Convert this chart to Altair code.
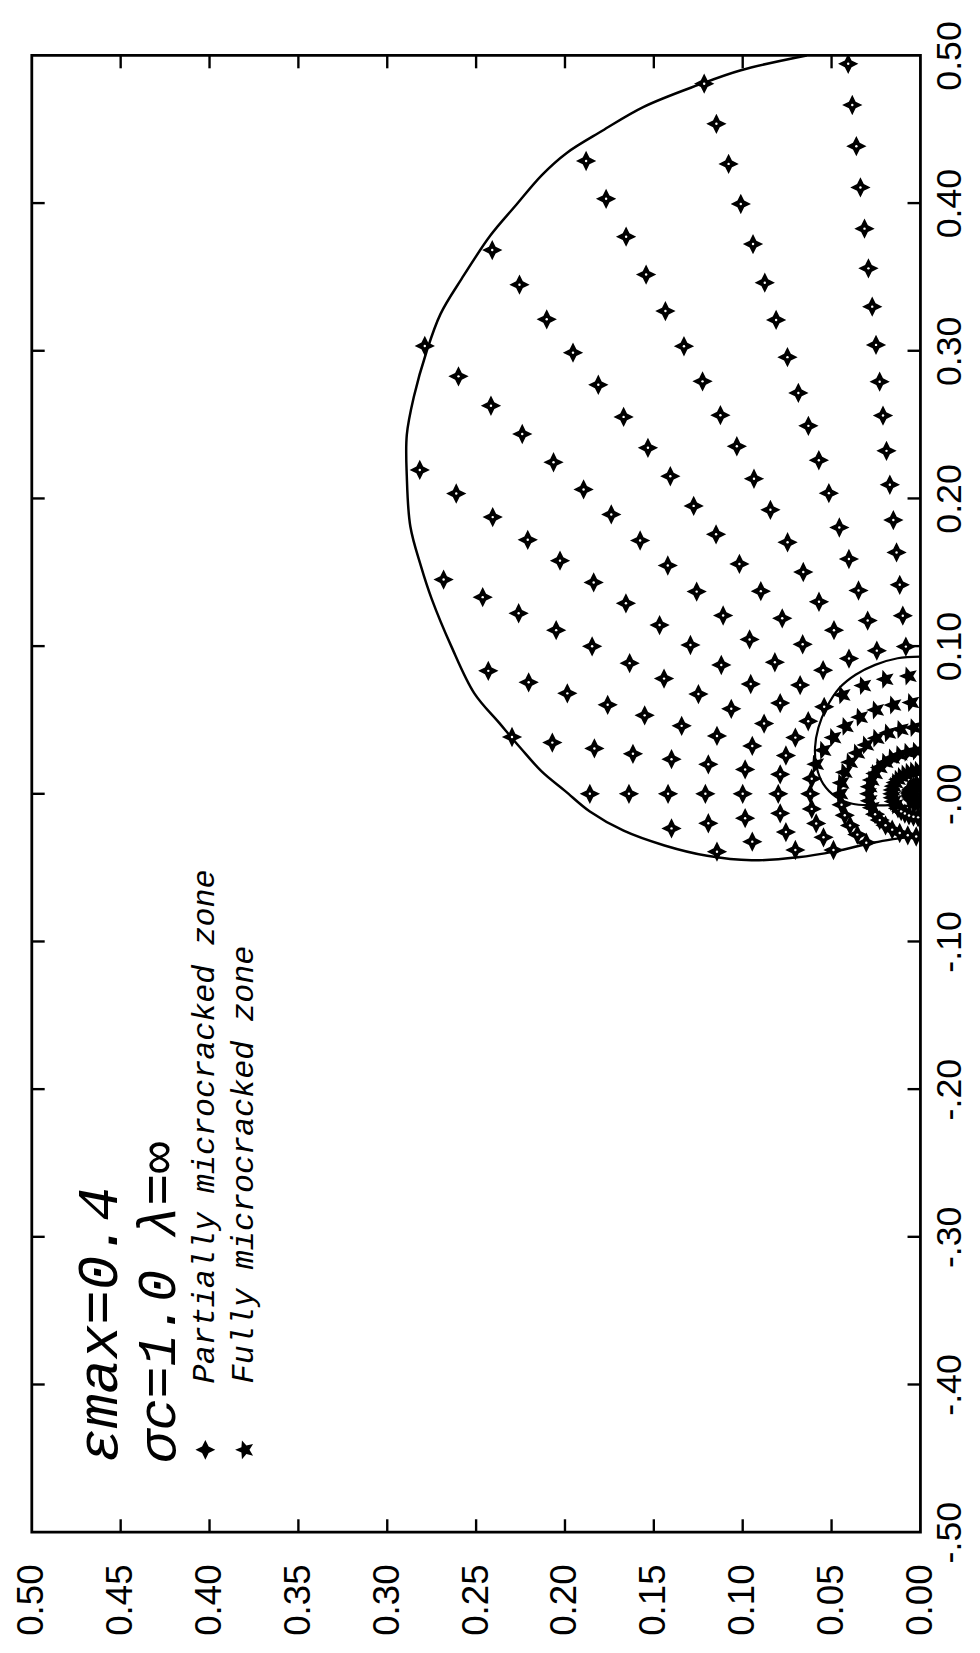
import math
import altair as alt
import pandas as pd

# ---------------- axis ticks ----------------
h_tick_values = [0.00, 0.05, 0.10, 0.15, 0.20, 0.25, 0.30, 0.35, 0.40, 0.45, 0.50]
h_tick_labels = ["0.00", "0.05", "0.10", "0.15", "0.20", "0.25", "0.30", "0.35", "0.40", "0.45", "0.50"]
v_tick_values = [-0.5, -0.4, -0.3, -0.2, -0.1, 0.0, 0.1, 0.2, 0.3, 0.4, 0.5]
v_tick_labels = ["-.50", "-.40", "-.30", "-.20", "-.10", "-.00", "0.10", "0.20", "0.30", "0.40", "0.50"]
h_inner_ticks = [0.05, 0.10, 0.15, 0.20, 0.25, 0.30, 0.35, 0.40, 0.45]
v_inner_ticks = [-0.4, -0.3, -0.2, -0.1, 0.0, 0.1, 0.2, 0.3, 0.4]

# ---------------- mesh points (polar) ----------------
ray_angle_deg = [4.7, 14.2, 23.7, 33.2, 42.6, 52.1, 61.6, 71.1, 80.5, 90.0,
                 99.5, 108.9, 118.4, 127.9, 137.4, 146.8, 156.3, 165.8, 175.3]
ring_radius = [0.006, 0.016, 0.029, 0.045, 0.062, 0.080, 0.100, 0.121, 0.142, 0.164,
               0.186, 0.210, 0.233, 0.257, 0.280, 0.305, 0.331, 0.357, 0.384, 0.412,
               0.440, 0.468, 0.496]
points_per_ray = [23, 23, 22, 21, 20, 18, 16, 14, 13, 11, 9, 8, 6, 5, 4, 3, 3, 3, 3]
full_zone_points_per_ray = [6, 6, 6, 6, 5, 5, 5, 5, 4, 4, 3, 3, 2, 1, 1, 1, 1, 1, 1]

# ---------------- zone boundaries ----------------
outer_y = [0.064, 0.101, 0.125, 0.156, 0.179, 0.199, 0.213, 0.228, 0.242, 0.258, 0.270,
           0.278, 0.285, 0.289, 0.289, 0.287, 0.281, 0.275, 0.264, 0.251, 0.237, 0.225,
           0.213, 0.200, 0.186, 0.167, 0.144, 0.120, 0.095, 0.069, 0.048, 0.026, 0.000]
outer_x = [0.500, 0.490, 0.480, 0.465, 0.449, 0.434, 0.419, 0.398, 0.378, 0.349, 0.325,
           0.299, 0.269, 0.243, 0.215, 0.181, 0.154, 0.132, 0.100, 0.068, 0.048, 0.031,
           0.015, 0.002, -0.012, -0.025, -0.035, -0.042, -0.045, -0.043, -0.039, -0.033, -0.028]
inner_y = [0.000, 0.0128, 0.0255, 0.0365, 0.0456, 0.0529, 0.0574, 0.0593, 0.0584, 0.0547,
           0.0474, 0.0383, 0.0274, 0.0146, 0.0018]
inner_x = [0.0929, 0.0918, 0.0873, 0.0806, 0.0716, 0.0582, 0.0448, 0.0313, 0.0179, 0.0067,
           -0.0022, -0.0067, -0.0078, -0.0078, -0.0085]

# ---------------- texts ----------------
title_lines = ["εmax=0.4", "σc=1.0  λ=∞"]
legend_labels = ["Partially microcracked zone", "Fully microcracked zone"]

# ---------------- build tables ----------------
rows = []
for a, n, nf in zip(ray_angle_deg, points_per_ray, full_zone_points_per_ray):
    t = math.radians(a)
    for j in range(n):
        r = ring_radius[j]
        rows.append({"yd": r * math.sin(t), "xd": r * math.cos(t),
                     "zone": "full" if j < nf else "partial"})
pts = pd.DataFrame(rows)
partial = pts[pts.zone == "partial"]
full = pts[pts.zone == "full"]

outer = pd.DataFrame({"yd": outer_y, "xd": outer_x, "i": range(len(outer_y))})
inner = pd.DataFrame({"yd": inner_y, "xd": inner_x, "i": range(len(inner_y))})

W, H = 896, 1489
TICK = 13

hscale = alt.Scale(domain=[0, 0.5], reverse=True, nice=False, zero=False)
vscale = alt.Scale(domain=[-0.5, 0.5], nice=False, zero=False)

h_expr = "[" + ",".join("'%s'" % s for s in h_tick_labels) + "][round(datum.value*20)]"
v_expr = "[" + ",".join("'%s'" % s for s in v_tick_labels) + "][round(datum.value*10)+5]"

haxis = alt.Axis(orient="bottom", values=h_tick_values, labelExpr=h_expr, labelAngle=270,
                 labelAlign="right", labelBaseline="middle", labelFont="Liberation Sans",
                 labelFontSize=37, labelPadding=32, ticks=False, tickSize=0, domain=False,
                 grid=False, title=None, labelColor="black", labelFlush=False,
                 labelOverlap=False, labelBound=False)
vaxis = alt.Axis(orient="right", values=v_tick_values, labelExpr=v_expr, labelAngle=270,
                 labelAlign="center", labelBaseline="top", labelFont="Liberation Sans",
                 labelFontSize=36, labelPadding=12, ticks=False, tickSize=0, domain=False,
                 grid=False, title=None, labelColor="black", labelFlush=False,
                 labelOverlap=False, labelBound=False)

X = alt.X("yd:Q", scale=hscale, axis=haxis)
Y = alt.Y("xd:Q", scale=vscale, axis=vaxis)

four_star = "M0,-1 L0.33,-0.33 L1,0 L0.33,0.33 L0,1 L-0.33,0.33 L-1,0 L-0.33,-0.33 Z"
five_star = ("M-1,0 L-0.364,-0.264 L-0.309,-0.951 L0.139,-0.428 L0.809,-0.588 L0.45,0 "
             "L0.809,0.588 L0.139,0.428 L-0.309,0.951 L-0.364,0.264 Z")

outer_line = alt.Chart(outer).mark_line(color="black", strokeWidth=2.5, clip=True,
                                        interpolate="catmull-rom").encode(
    x=X, y=Y, order="i:Q")
inner_line = alt.Chart(inner).mark_line(color="black", strokeWidth=2.2, clip=True,
                                        interpolate="catmull-rom").encode(
    x=X, y=Y, order="i:Q")

partial_pts = alt.Chart(partial).mark_point(shape=four_star, filled=True, color="black",
                                            size=420, opacity=1, clip=True).encode(x=X, y=Y)
partial_holes = alt.Chart(partial).mark_point(shape="circle", filled=True, color="white",
                                              size=6, opacity=1, clip=True).encode(x=X, y=Y)
full_pts = alt.Chart(full).mark_point(shape=five_star, filled=True, color="black",
                                      size=400, opacity=1, clip=True).encode(x=X, y=Y)

htick_df = pd.DataFrame({"yd": h_inner_ticks})
vtick_df = pd.DataFrame({"xd": v_inner_ticks})
tick_top = alt.Chart(htick_df).mark_rule(color="black", strokeWidth=2.4).encode(
    x=X, y=alt.value(0), y2=alt.value(TICK))
tick_bottom = alt.Chart(htick_df).mark_rule(color="black", strokeWidth=2.4).encode(
    x=X, y=alt.value(H), y2=alt.value(H - TICK))
tick_left = alt.Chart(vtick_df).mark_rule(color="black", strokeWidth=2.4).encode(
    y=Y, x=alt.value(0), x2=alt.value(TICK))
tick_right = alt.Chart(vtick_df).mark_rule(color="black", strokeWidth=2.4).encode(
    y=Y, x=alt.value(W - TICK), x2=alt.value(W))

big_font = "Liberation Mono"
t1 = alt.Chart(pd.DataFrame({"t": [title_lines[0]]})).mark_text(
    angle=270, align="left", baseline="alphabetic", font=big_font, fontStyle="italic",
    fontSize=58, color="black").encode(x=alt.value(86), y=alt.value(1419), text="t:N")
t2 = alt.Chart(pd.DataFrame({"t": [title_lines[1]]})).mark_text(
    angle=270, align="left", baseline="alphabetic", font=big_font, fontStyle="italic",
    fontSize=54, color="black").encode(x=alt.value(144), y=alt.value(1419), text="t:N")
l1 = alt.Chart(pd.DataFrame({"t": [legend_labels[0]]})).mark_text(
    angle=270, align="left", baseline="alphabetic", font=big_font, fontStyle="italic",
    fontSize=32, color="black").encode(x=alt.value(184), y=alt.value(1339), text="t:N")
l2 = alt.Chart(pd.DataFrame({"t": [legend_labels[1]]})).mark_text(
    angle=270, align="left", baseline="alphabetic", font=big_font, fontStyle="italic",
    fontSize=32, color="black").encode(x=alt.value(223), y=alt.value(1339), text="t:N")
sym1 = alt.Chart(pd.DataFrame({"k": ["partial"]})).mark_point(
    shape=four_star, filled=True, color="black", size=400, opacity=1).encode(
    x=alt.value(175), y=alt.value(1406))
sym2 = alt.Chart(pd.DataFrame({"k": ["full"]})).mark_point(
    shape=five_star, filled=True, color="black", size=400, opacity=1).encode(
    x=alt.value(215), y=alt.value(1406))

chart = alt.layer(
    outer_line, inner_line, partial_pts, partial_holes, full_pts,
    tick_top, tick_bottom, tick_left, tick_right,
    t1, t2, l1, l2, sym1, sym2
).properties(
    width=W, height=H,
    background="white",
    autosize=alt.AutoSizeParams(type="none"),
    padding={"left": 24, "top": 41, "right": 52, "bottom": 112},
).configure_view(
    stroke="black", strokeWidth=2.8
)

chart.save("out.html", embed_options={"renderer": "svg", "actions": False})
